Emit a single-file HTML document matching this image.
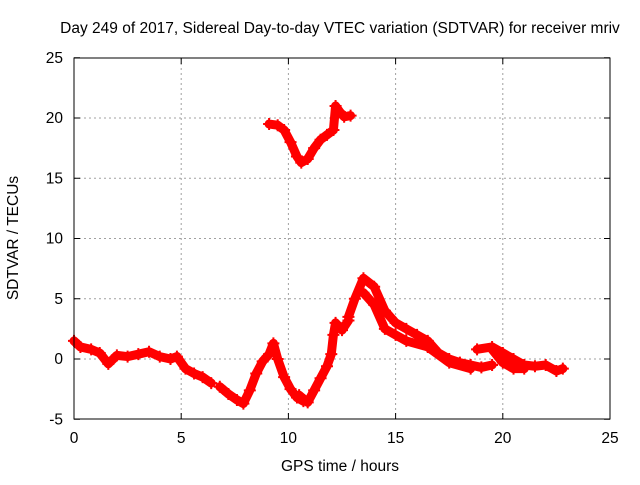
<!DOCTYPE html>
<html><head><meta charset="utf-8"><style>
body{margin:0;background:#fff}
svg{font-family:"Liberation Sans",sans-serif;font-size:15.5px}
</style></head><body>
<svg id="chart" width="640" height="480">
<rect width="640" height="480" fill="#fff"/>
<text x="340" y="33" text-anchor="middle">Day 249 of 2017, Sidereal Day-to-day VTEC variation (SDTVAR) for receiver mriv</text>
<text x="340" y="471" text-anchor="middle">GPS time / hours</text>
<text transform="translate(18,238) rotate(-90)" text-anchor="middle">SDTVAR / TECUs</text>
<g id="grid"></g><g id="marks"></g><g id="axes"></g>
</svg>
<script>
const xTicks=[0,5,10,15,20,25];
const yTicks=[-5,0,5,10,15,20,25];
const trackA_x=[0,0.3,0.8,1.2,1.6,2,2.5,3,3.5,4,4.5,4.8,5.2,5.6,6,6.4];
const trackA_y=[1.5,1,0.8,0.5,-0.4,0.3,0.2,0.4,0.6,0.2,0,0.2,-0.8,-1.2,-1.5,-2];
const trackB_x=[6.8,7.2,7.6,7.9,8.2,8.5,8.8,9.1,9.3,9.5,9.8,10.1,10.4,10.7];
const trackB_y=[-2.3,-2.9,-3.4,-3.7,-2.6,-1.2,-0.2,0.4,1.3,0,-1.5,-2.5,-3.2,-3.5];
const trackC_x=[10.5,10.9,11.2,11.5,11.8,12,12.1,12.2,12.5,12.8];
const trackC_y=[-3,-3.6,-2.6,-1.6,-0.6,0.4,2,3,2.4,3.2];
const trackD_x=[12.8,13.1,13.5,14,14.5,15,15.5,16,16.5,17,17.5,18,18.5,19,19.5];
const trackD_y=[3.5,5,6.7,6,4,3,2.5,2,1.5,0.5,0,-0.3,-0.5,-0.7,-0.5];
const trackD2_x=[13.5,14,14.5,15,15.5,16.5,17.5,18.5];
const trackD2_y=[5.5,4.5,2.5,2,1.5,1,-0.3,-0.8];
const trackE_x=[18.8,19.5,20,20.5,21,21.5,22,22.5,22.8];
const trackE_y=[0.8,1,0.5,0,-0.5,-0.6,-0.5,-1,-0.8];
const trackE2_x=[19.5,20,20.5,21];
const trackE2_y=[0.8,-0.3,-0.8,-0.8];
const trackF_x=[9.1,9.5,9.8,10.1,10.4,10.6,10.9,11.2,11.5,11.8,12.1,12.2,12.4,12.6,12.9];
const trackF_y=[19.5,19.4,19,18,16.8,16.3,16.6,17.5,18.2,18.6,19,21,20.5,20.1,20.2];
const X=v=>74+v*(536/25);
const Y=v=>359-v*12.05;
const NS='http://www.w3.org/2000/svg';
function mk(t,a,p){const e=document.createElementNS(NS,t);for(const k in a)e.setAttribute(k,a[k]);p.appendChild(e);return e;}
const grid=document.getElementById('grid'),axes=document.getElementById('axes'),marks=document.getElementById('marks');
xTicks.forEach(t=>{
 if(t>0&&t<25){const g=mk('line',{x1:X(t),x2:X(t),y1:58,y2:419,stroke:'#a0a0a0','stroke-dasharray':'2,3'},grid);
 
 }
 mk('line',{x1:X(t),x2:X(t),y1:419,y2:413,stroke:'#000'},axes);
 mk('line',{x1:X(t),x2:X(t),y1:58,y2:64,stroke:'#000'},axes);
 const l=mk('text',{x:X(t),y:443,'text-anchor':'middle'},axes);l.textContent=t;
 
 
});
yTicks.forEach(t=>{
 if(t>-5&&t<25){const g=mk('line',{x1:74,x2:610,y1:Y(t),y2:Y(t),stroke:'#a0a0a0','stroke-dasharray':'2,3'},grid);
 
 }
 mk('line',{x1:74,x2:80,y1:Y(t),y2:Y(t),stroke:'#000'},axes);
 mk('line',{x1:604,x2:610,y1:Y(t),y2:Y(t),stroke:'#000'},axes);
 const l=mk('text',{x:63,y:Y(t)+5,'text-anchor':'end'},axes);l.textContent=t;
 
 
});
const fr=mk('rect',{x:74,y:58,width:536,height:361,fill:'none',stroke:'#000'},axes);


const tracks=[[trackA_x,trackA_y],[trackB_x,trackB_y],[trackC_x,trackC_y],[trackD_x,trackD_y],[trackD2_x,trackD2_y],[trackE_x,trackE_y],[trackE2_x,trackE2_y],[trackF_x,trackF_y]];
tracks.forEach(([xs,ys])=>{
 const pts=xs.map((x,i)=>X(x)+','+Y(ys[i])).join(' ');
 const pl=mk('polyline',{points:pts,fill:'none',stroke:'#f00','stroke-width':9,'stroke-linejoin':'round','stroke-linecap':'round'},marks);
 
 
 xs.forEach((x,i)=>{
  const p=mk('path',{d:`M${X(x)-6},${Y(ys[i])}h12M${X(x)},${Y(ys[i])-6}v12`,stroke:'#f00','stroke-width':2},marks);
  
  
 });
});
</script>
</body></html>
